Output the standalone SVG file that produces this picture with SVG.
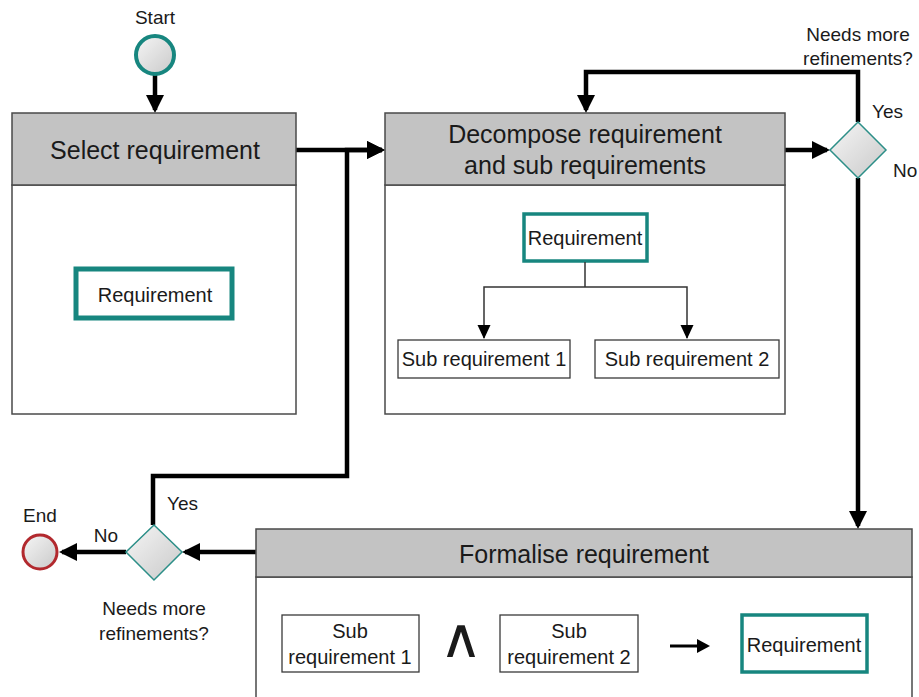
<svg xmlns="http://www.w3.org/2000/svg" width="919" height="697" viewBox="0 0 919 697">
<style>
  text { font-family: "Liberation Sans", Arial, sans-serif; fill: #1a1a1a; }
  .hdr { fill: #c3c3c3; stroke: #4a4a4a; stroke-width: 1.5; }
  .body { fill: #ffffff; stroke: #4a4a4a; stroke-width: 1.5; }
  .teal { fill: #ffffff; stroke: #17867f; }
  .plain { fill: #ffffff; stroke: #3a3a3a; stroke-width: 1.3; }
  .flow { fill: none; stroke: #000000; stroke-width: 4.5; }
  .thin { fill: none; stroke: #333333; stroke-width: 1.5; }
  .title { font-size: 25px; text-anchor: middle; }
  .t20 { font-size: 20px; text-anchor: middle; }
  .lbl { font-size: 19px; }
  .dia { fill: url(#g); stroke: #2c8f88; stroke-width: 1.5; }
</style>
<defs>
  <linearGradient id="g" x1="0" y1="0" x2="1" y2="1">
    <stop offset="0" stop-color="#f6f6f6"/>
    <stop offset="1" stop-color="#c9c9c9"/>
  </linearGradient>
  <marker id="big" markerUnits="userSpaceOnUse" markerWidth="20" markerHeight="20" refX="15" refY="9" orient="auto">
    <path d="M0,0 L18,9 L0,18 z" fill="#000"/>
  </marker>
  <marker id="small" markerUnits="userSpaceOnUse" markerWidth="16" markerHeight="14" refX="13" refY="6.5" orient="auto">
    <path d="M0,0 L14,6.5 L0,13 z" fill="#000"/>
  </marker>
</defs>

<g id="connectors">
  <path class="flow" d="M155,75 V110" marker-end="url(#big)"/>
  <path class="flow" d="M296,150 H382" marker-end="url(#big)"/>
  <path class="flow" d="M153,525 V476 H347 V150 H382" marker-end="url(#big)"/>
  <path class="flow" d="M785,150 H827" marker-end="url(#big)"/>
  <path class="flow" d="M858,122 V72 H586 V110" marker-end="url(#big)"/>
  <path class="flow" d="M858,178 V526" marker-end="url(#big)"/>
  <path class="flow" d="M256,552 H185" marker-end="url(#big)"/>
  <path class="flow" d="M126,552 H62" marker-end="url(#big)"/>
</g>

<g id="start">
  <circle cx="155" cy="55" r="19" fill="url(#g)" stroke="#17867f" stroke-width="4"/>
  <text class="lbl" x="155" y="24" text-anchor="middle">Start</text>
</g>

<g id="select">
  <rect class="body" x="12" y="185" width="284" height="229"/>
  <rect class="hdr" x="12" y="113" width="284" height="72"/>
  <text class="title" x="155" y="159">Select requirement</text>
  <rect class="teal" x="76" y="269" width="156" height="49" stroke-width="5"/>
  <text class="t20" x="155" y="302">Requirement</text>
</g>

<g id="decompose">
  <rect class="body" x="385" y="185" width="400" height="229"/>
  <rect class="hdr" x="385" y="113" width="400" height="72"/>
  <text class="title" x="585" y="143">Decompose requirement</text>
  <text class="title" x="585" y="174">and sub requirements</text>
  <rect class="teal" x="524" y="214" width="123" height="47" stroke-width="3.5"/>
  <text class="t20" x="585" y="245">Requirement</text>
  <path class="thin" d="M585,262 V287"/>
  <path class="thin" d="M585,287 H484 V338" marker-end="url(#small)"/>
  <path class="thin" d="M585,287 H687 V338" marker-end="url(#small)"/>
  <rect class="plain" x="398" y="340" width="172" height="38"/>
  <text class="t20" x="484" y="366">Sub requirement 1</text>
  <rect class="plain" x="595" y="340" width="184" height="38"/>
  <text class="t20" x="687" y="366">Sub requirement 2</text>
</g>

<g id="decision-right">
  <polygon class="dia" points="858,122 886,150 858,178 830,150"/>
  <text class="lbl" x="858" y="41" text-anchor="middle">Needs more</text>
  <text class="lbl" x="858" y="65" text-anchor="middle">refinements?</text>
  <text class="lbl" x="872" y="118">Yes</text>
  <text class="lbl" x="893" y="177">No</text>
</g>

<g id="formalise">
  <rect class="body" x="256" y="577" width="656" height="130"/>
  <rect class="hdr" x="256" y="529" width="656" height="48"/>
  <text class="title" x="584" y="563">Formalise requirement</text>
  <rect class="plain" x="282" y="615" width="137" height="57"/>
  <text class="t20" x="350" y="638">Sub</text>
  <text class="t20" x="350" y="664">requirement 1</text>
  <text transform="translate(461,657) scale(1.35,1.25)" x="0" y="0" text-anchor="middle" style="font-family:'DejaVu Sans',sans-serif;font-size:44px;">∧</text>
  <rect class="plain" x="500" y="615" width="138" height="57"/>
  <text class="t20" x="569" y="638">Sub</text>
  <text class="t20" x="569" y="664">requirement 2</text>
  <path d="M670,646 H700" stroke="#000" stroke-width="3" fill="none"/>
  <path d="M697,639 L710,646 L697,653 z" fill="#000"/>
  <rect class="teal" x="742" y="615" width="125" height="57" stroke-width="3.5"/>
  <text class="t20" x="804" y="652">Requirement</text>
</g>

<g id="decision-left">
  <polygon class="dia" points="154,525 182,552 154,580 126,552"/>
  <text class="lbl" x="167" y="510">Yes</text>
  <text class="lbl" x="106" y="542" text-anchor="middle">No</text>
  <text class="lbl" x="154" y="615" text-anchor="middle">Needs more</text>
  <text class="lbl" x="154" y="640" text-anchor="middle">refinements?</text>
</g>

<g id="end">
  <circle cx="40" cy="552" r="17" fill="url(#g)" stroke="#b2292e" stroke-width="3"/>
  <text class="lbl" x="40" y="522" text-anchor="middle">End</text>
</g>
</svg>
